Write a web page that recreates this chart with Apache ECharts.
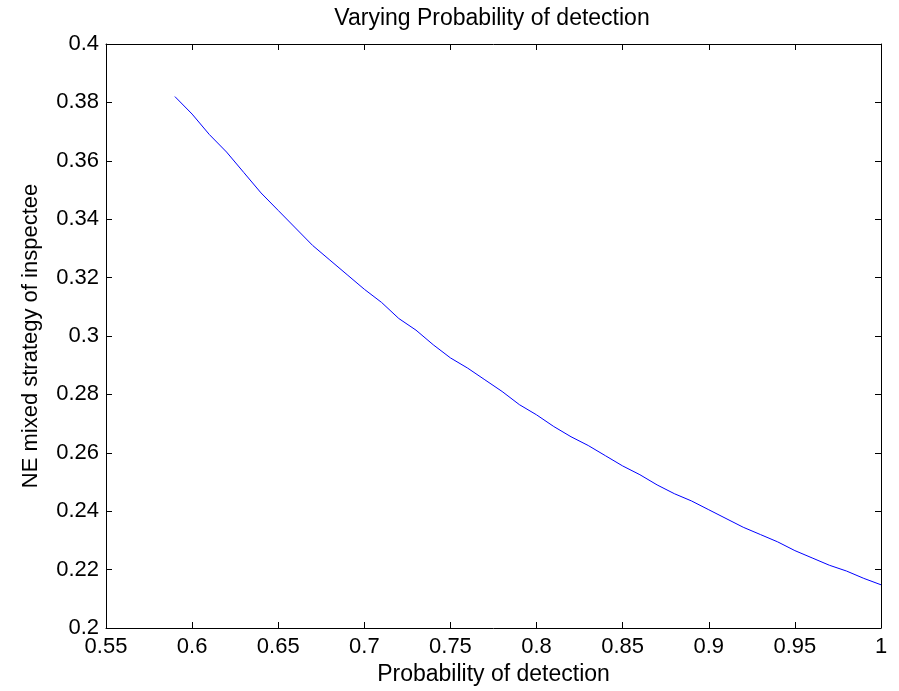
<!DOCTYPE html>
<html>
<head>
<meta charset="utf-8">
<script src="https://cdn.jsdelivr.net/npm/echarts@6/dist/echarts.min.js"></script>
<style>
  html, body { margin: 0; padding: 0; background: #fff; }
  #chart { width: 899px; height: 691px; }
</style>
</head>
<body>
<div id="chart"></div>
<script>
// probability of detection (x) and NE mixed strategy of inspectee (y)
const detectProb = [0.59, 0.60, 0.61, 0.62, 0.63, 0.64, 0.65, 0.66, 0.67, 0.68,
  0.69, 0.70, 0.71, 0.72, 0.73, 0.74, 0.75, 0.76, 0.77, 0.78,
  0.79, 0.80, 0.81, 0.82, 0.83, 0.84, 0.85, 0.86, 0.87, 0.88,
  0.89, 0.90, 0.91, 0.92, 0.93, 0.94, 0.95, 0.96, 0.97, 0.98,
  0.99, 1.00]
const mixedStrategy = [0.382, 0.376, 0.369, 0.363, 0.356, 0.349, 0.343, 0.337, 0.331, 0.326,
  0.321, 0.316, 0.3115, 0.306, 0.302, 0.297, 0.2925, 0.289, 0.285, 0.281,
  0.2765, 0.273, 0.269, 0.2655, 0.2625, 0.259, 0.2555, 0.2525, 0.249, 0.246,
  0.2435, 0.2405, 0.2375, 0.2345, 0.232, 0.2295, 0.2265, 0.224, 0.2215, 0.2195,
  0.217, 0.2148]

const font = 'Liberation Sans'

let chart = echarts.init(document.getElementById('chart'))

// matlab style axis: inward ticks, box on every side
function xAx(pos, labels) {
  return {
    type: 'value',
    position: pos,
    min: 0.55,
    max: 1,
    interval: 0.05,
    name: labels ? 'Probability of detection' : '',
    nameLocation: 'middle',
    nameGap: 35,
    nameTextStyle: { color: '#000', fontFamily: font, fontSize: 23 },
    axisLine: { show: true, lineStyle: { color: '#000', width: 1 } },
    axisTick: { show: true, inside: true, length: 6, lineStyle: { color: '#000' } },
    axisLabel: { show: labels, color: '#000', fontFamily: font, fontSize: 22, margin: 8 },
    splitLine: { show: false }
  }
}
function yAx(pos, labels) {
  return {
    type: 'value',
    position: pos,
    min: 0.2,
    max: 0.4,
    interval: 0.02,
    name: labels ? 'NE mixed strategy of inspectee' : '',
    nameLocation: 'middle',
    nameGap: 64,
    nameTextStyle: { color: '#000', fontFamily: font, fontSize: 22 },
    axisLine: { show: true, lineStyle: { color: '#000', width: 1 } },
    axisTick: { show: true, inside: true, length: 6, lineStyle: { color: '#000' } },
    axisLabel: { show: labels, color: '#000', fontFamily: font, fontSize: 22, margin: 7 },
    splitLine: { show: false }
  }
}

let option = {
  backgroundColor: '#fff',
  animation: false,
  title: {
    text: 'Varying Probability of detection',
    left: 492,
    textAlign: 'center',
    top: 7,
    padding: 0,
    textStyle: { color: '#000', fontFamily: font, fontSize: 23, fontWeight: 'normal' }
  },
  grid: { left: 106, top: 44, right: 18, bottom: 61, containLabel: false },
  xAxis: [xAx('bottom', true), xAx('top', false)],
  yAxis: [yAx('left', true), yAx('right', false)],
  series: [
    {
      type: 'line',
      data: detectProb.map((p, i) => [p, mixedStrategy[i]]),
      showSymbol: false,
      symbol: 'none',
      lineStyle: { color: '#0000ff', width: 1 },
      itemStyle: { color: '#0000ff' }
    }
  ]
}

chart.setOption(option)
</script>
</body>
</html>
